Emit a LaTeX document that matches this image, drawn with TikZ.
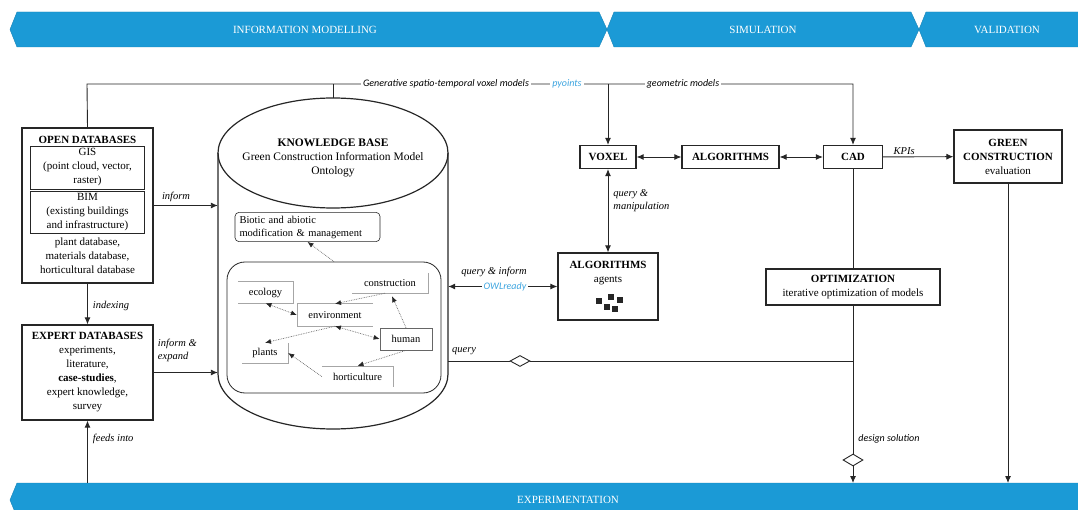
\documentclass[tikz,border=0pt]{standalone}
\usepackage{fontspec}
\setmainfont{Liberation Serif}
\newfontfamily\calib{Carlito}
\usepackage{tikz}
\usetikzlibrary{positioning,arrows.meta,shapes.geometric}
\definecolor{bannerblue}{HTML}{1B9AD6}
\definecolor{linkblue}{HTML}{3DA5E0}
\definecolor{ink}{HTML}{262626}

\begin{document}
\begin{tikzpicture}[x=1pt,y=-1pt,
  box/.style={draw=ink,line width=1.2pt,inner sep=0pt,align=center,font=\fontsize{11}{14}\selectfont},
  headbox/.style={box,font=\bfseries\fontsize{11}{14}\selectfont,minimum height=23pt},
  subbox/.style={draw=ink,line width=0.9pt,inner sep=0pt,align=center,minimum width=114pt,font=\fontsize{11}{14}\selectfont},
  lbl/.style={font=\fontsize{10.5}{13}\selectfont\itshape,inner sep=1pt},
  sanslbl/.style={font=\calib\fontsize{10}{12}\selectfont\itshape,fill=white,inner sep=2pt},
  link/.style={draw=ink,line width=0.9pt},
  arr/.style={link,-{Latex[length=7pt,width=6pt]}},
  biarr/.style={link,{Latex[length=7pt,width=6pt]}-{Latex[length=7pt,width=6pt]}},
  dotarr/.style={draw=gray!80!black,densely dotted,line width=0.7pt,-{Latex[length=6pt,width=5pt,color=ink]}},
  dotboth/.style={draw=gray!80!black,densely dotted,line width=0.7pt,{Latex[length=6pt,width=5pt,color=ink]}-{Latex[length=6pt,width=5pt,color=ink]}},
  topic/.style={inner sep=0pt,font=\fontsize{10.5}{12}\selectfont},
  frame/.style={draw=gray!70,line width=0.6pt},
  marker/.style={diamond,draw=ink,fill=white,line width=0.9pt,inner sep=0pt,minimum width=20pt,minimum height=11pt},
  banner/.style={fill=bannerblue,draw=bannerblue!85!black,line width=0.4pt},
  bannertext/.style={text=white,font=\fontsize{11}{13}\selectfont}]
\useasboundingbox (0,0) rectangle (1078,510);
\clip (0,0) rectangle (1078,510);

% phase banners
\filldraw[banner] (17,12) -- (599,12) -- (607,29.5) -- (599,47) -- (17,47) -- (10,29.5) -- cycle;
\filldraw[banner] (614,12) -- (911,12) -- (919,29.5) -- (911,47) -- (614,47) -- (607,29.5) -- cycle;
\filldraw[banner] (926,12) -- (1090,12) -- (1090,47) -- (926,47) -- (919,29.5) -- cycle;
\filldraw[banner] (17,483) -- (1090,483) -- (1090,517) -- (17,517) -- (10,500) -- cycle;
\node[bannertext] (infomod) at (305,29.5) {INFORMATION MODELLING};
\node[bannertext] (simulation) at (763,29.5) {SIMULATION};
\node[bannertext] (validation) at (1007,29.5) {VALIDATION};
\node[bannertext] (experiment) at (568,500) {EXPERIMENTATION};

% databases
\node[box,minimum width=131pt,minimum height=155pt] (opendb) at (87.5,205.5) {};
\node[font=\bfseries\fontsize{11}{14}\selectfont] (opentitle) at (87.5,140) {OPEN DATABASES};
\node[subbox,minimum height=43pt] (gis) at (87.5,167.5) {GIS\\(point cloud, vector,\\raster)};
\node[subbox,minimum height=42pt] (bim) at (87.5,212) {BIM\\(existing buildings\\and infrastructure)};
\node[align=center,inner sep=0pt,font=\fontsize{11}{14}\selectfont] (plantdb) at (87.5,255.5) {plant database,\\materials database,\\horticultural database};
\node[box,minimum width=131pt,minimum height=95pt] (expertdb) at (87.5,372.5) {\textbf{EXPERT DATABASES}\\experiments,\\literature,\\\textbf{case-studies},\\expert knowledge,\\survey};

% knowledge base cylinder
\draw[ink,line width=1.2pt] (218,153) -- (218,374) arc[start angle=180,end angle=360,x radius=115pt,y radius=55pt] -- (448,153);
\draw[ink,line width=1.2pt] (333,153) ellipse[x radius=115pt,y radius=55pt];
\node[minimum width=230pt,minimum height=331pt,inner sep=0pt] (kb) at (333,263.5) {};
\node[align=center,inner sep=0pt,font=\fontsize{11.5}{14}\selectfont] (kbtext) at (333,158) {\textbf{KNOWLEDGE BASE}\\Green Construction Information Model\\Ontology};
\node[draw=ink,line width=0.6pt,rounded corners=4pt,align=left,inner xsep=4.5pt,text width=136pt,minimum height=28pt,font=\fontsize{10.5}{13}\selectfont] (biotic) at (307.5,227) {Biotic and abiotic\\modification \& management};
\node[draw=ink,line width=0.8pt,rounded corners=18pt,minimum width=214pt,minimum height=131pt] (inner) at (334,327.5) {};

\node[topic,minimum width=55pt,minimum height=21pt] (ecology) at (265.5,292.5) {ecology};
\node[topic,minimum width=76pt,minimum height=20pt] (construction) at (390,283) {construction};
\node[topic,minimum width=76pt,minimum height=22pt] (environment) at (335,315) {environment};
\node[topic,minimum width=52pt,minimum height=22pt,draw=gray!80!black,line width=0.7pt] (human) at (406,339) {human};
\node[topic,minimum width=46pt,minimum height=20pt] (plants) at (265,353) {plants};
\node[topic,minimum width=71pt,minimum height=21pt] (horticulture) at (357.5,376.5) {horticulture};
\draw[frame] (ecology.north west) -- (ecology.north east) -- (ecology.south east) -- (ecology.south west);
\draw[frame] (construction.north east) -- (construction.south east) -- (construction.south west);
\draw[frame] (environment.north east) -- (environment.north west) -- (environment.south west) -- (environment.south east);
\draw[frame] (plants.north east) -- (plants.south east) -- (plants.south west);
\draw[frame] (horticulture.north west) -- (horticulture.north east) -- (horticulture.south east);

\draw[dotarr] (inner.north) -- (biotic.south);
\draw[dotboth] (ecology.south) -- (environment.west);
\draw[dotarr] ([xshift=-5pt]construction.south) -- (environment.north);
\draw[dotarr] (environment.south) -- (plants.north);
\draw[dotboth] (environment.south) -- (human.west);
\draw[dotarr] (human.north) -- ([xshift=2pt,yshift=-3pt]construction.south);
\draw[dotarr] (human.south) -- (horticulture.north);
\draw[dotarr] (horticulture.west) -- (plants.east);

% simulation side
\node[headbox,minimum width=56pt] (voxel) at (608,157) {VOXEL};
\node[headbox,minimum width=97pt] (algo) at (730.5,157) {ALGORITHMS};
\node[headbox,minimum width=59pt] (cad) at (853,157) {CAD};
\node[box,minimum width=108pt,minimum height=53pt] (green) at (1008,156.5) {\textbf{GREEN}\\\textbf{CONSTRUCTION}\\evaluation};
\node[box,minimum width=100pt,minimum height=67pt] (agents) at (608,286.5) {};
\node[align=center,inner sep=0pt,font=\fontsize{11}{14}\selectfont] (agentstext) at (608,273) {\textbf{ALGORITHMS}\\agents};
\foreach \sx/\sy in {599/301,611/297,620/300,607/307,615/309}
  \fill[ink] (\sx-2.7,\sy-2.7) rectangle (\sx+2.7,\sy+2.7);
\node[box,minimum width=174pt,minimum height=36pt] (optim) at (853,287) {\textbf{OPTIMIZATION}\\iterative optimization of models};
\node[marker] (qdiamond) at (520,361) {};
\node[marker,minimum height=12pt] (ddiamond) at (853,460) {};

% connectors
\coordinate (topleft) at (87,84);
\coordinate (topright) at (853,84);
\draw[arr] (opendb.north) -- (topleft) -- (topright) -- (cad.north);
\draw[link] (kb.north) -- (kb.north |- topleft);
\draw[arr] (voxel.north |- topleft) -- (voxel.north);
\node[sanslbl] (genlabel) at (446,84) {Generative spatio-temporal voxel models};
\node[sanslbl,text=linkblue] (pyoints) at (567,84) {pyoints};
\node[sanslbl] (geomlabel) at (683,84) {geometric models};

\draw[arr] (opendb.east) -- node[lbl,above=2pt,pos=0.35] {inform} (opendb.east -| kb.west);
\draw[arr] (opendb.south) -- node[lbl,right=4pt,pos=0.55] {indexing} (expertdb.north);
\draw[arr] (expertdb.east) -- node[lbl,above=9pt,pos=0.37,align=left] {inform \&\\expand} (expertdb.east -| kb.west);
\coordinate (feedsin) at (87.5,483);
\draw[arr] (feedsin) -- node[lbl,right=4pt,pos=0.7] {feeds into} (expertdb.south);

\draw[biarr] (voxel) -- (algo);
\draw[biarr] (algo) -- (cad);
\draw[arr] (cad) -- node[lbl,above=1pt,pos=0.3] {KPIs} (green);
\draw[biarr] (voxel) -- node[lbl,right=4pt,pos=0.38,align=left] {query \&\\manipulation} (agents);
\draw[biarr] (agents.west -| kb.east) -- node[lbl,above=8pt,pos=0.42] {query \& inform} node[sanslbl,text=linkblue,pos=0.52] {OWLready} (agents.west);

\coordinate (qjoin) at (853,361);
\draw[link] (kb.east |- qjoin) -- node[lbl,above=5pt,pos=0.04,anchor=south west] {query} (qdiamond) -- (qjoin);
\draw[link] (cad.south) -- (optim.north);
\draw[link] (optim.south) -- node[sanslbl,fill=none,anchor=west,xshift=3pt,pos=0.9] {design solution} (ddiamond.north);
\coordinate (dsend) at (853,483);
\draw[arr] (ddiamond.south) -- (dsend);
\draw[arr] (green.south) -- (green.south |- dsend);
\end{tikzpicture}
\end{document}
